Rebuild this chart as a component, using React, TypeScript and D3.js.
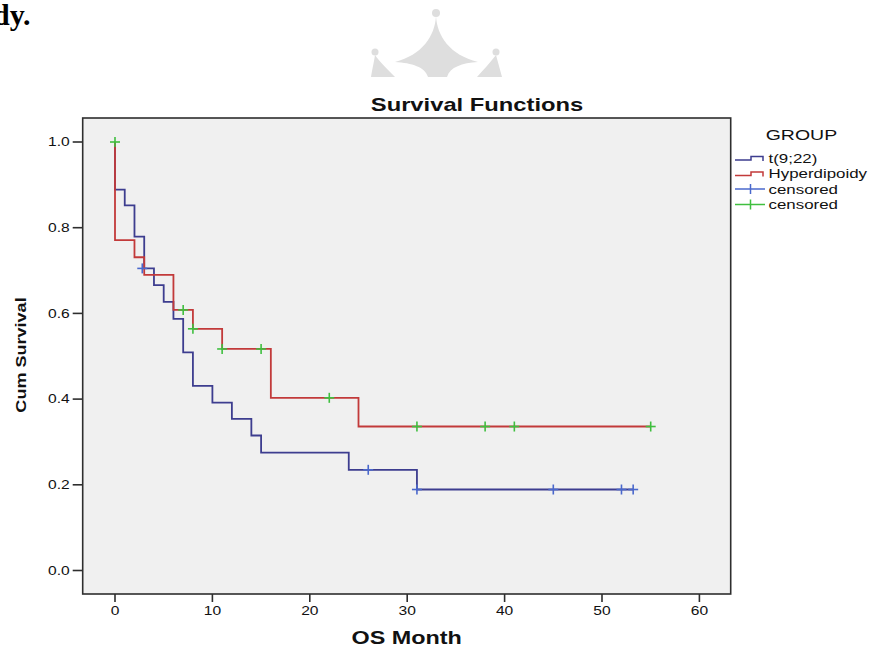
import React, { useRef, useEffect } from 'react';
import * as d3 from 'd3';

// t(9;22) group: event times and survival after each step
const blueTimes = [0, 1, 2, 3, 4, 5, 6, 7, 8, 10, 12, 14, 15, 24, 31];
const blueSurv = [0.889, 0.852, 0.779, 0.705, 0.666, 0.627, 0.587, 0.509, 0.431, 0.392, 0.354, 0.315, 0.275, 0.235, 0.189];
const blueEnd = 53.2;
const blueCensorTimes = [2.8, 26, 31, 45, 52, 53.2];
const blueCensorSurv = [0.705, 0.235, 0.189, 0.189, 0.189, 0.189];

// Hyperdipoidy group
const redTimes = [0, 2, 3, 6, 8, 11, 16, 25];
const redSurv = [0.771, 0.731, 0.69, 0.608, 0.564, 0.517, 0.403, 0.336];
const redEnd = 55;
const greenCensorTimes = [0, 7, 8, 11, 15, 22, 31, 38, 41, 55];
const greenCensorSurv = [1.0, 0.608, 0.564, 0.517, 0.517, 0.403, 0.336, 0.336, 0.336, 0.336];

const xTicks = [0, 10, 20, 30, 40, 50, 60];
const yTicks = [0, 0.2, 0.4, 0.6, 0.8, 1.0];
const legendLabels = ['t(9;22)', 'Hyperdipoidy', 'censored', 'censored'];

const BLUE = '#3d3d8f';
const RED = '#c23a3a';
const BLUE_C = '#4a68cc';
const GREEN_C = '#3fbf3f';
const FONT = "'Liberation Sans', Arial, sans-serif";
const SX = 1.3;

const App = () => {
    const svgRef = useRef(null);

    useEffect(() => {
        const svg = d3.select(svgRef.current);
        svg.selectAll('*').remove();

        const frame = { left: 82.7, top: 118, right: 730.7, bottom: 594 };
        const x = d3.scaleLinear().domain([0, 60]).range([115, 699.4]);
        const y = d3.scaleLinear().domain([0, 1]).range([570.5, 142]);

        const addText = (g, str, tx, ty, size, anchor, opts = {}) => {
            return g.append('text')
                .attr('transform', `translate(${tx},${ty}) ${opts.rotate ? `rotate(${opts.rotate})` : ''} scale(${opts.sx ?? SX},1)`)
                .attr('text-anchor', anchor)
                .attr('font-family', opts.family ?? FONT)
                .attr('font-weight', opts.bold ? 'bold' : 'normal')
                .attr('font-size', size)
                .attr('fill', opts.fill ?? '#111')
                .text(str);
        };

        // cropped heading text from the page
        addText(svg, 'dy.', -7, 25, 30, 'start', { bold: true, sx: 1, family: "'Liberation Serif', 'Times New Roman', serif", fill: '#000' });

        // watermark
        const wm = svg.append('g').attr('fill', '#dedede');
        wm.append('circle').attr('cx', 436).attr('cy', 13).attr('r', 4);
        wm.append('path').attr('d', 'M436,16 C437,36 450,55 478,62 C462,63 450,67 447,77 L428,77 C425,67 412,63 395,62 C422,55 435,36 436,16 Z');
        wm.append('circle').attr('cx', 375).attr('cy', 52).attr('r', 3.5);
        wm.append('path').attr('d', 'M375,55 C374,62 372,70 371,77 L395,77 C388,70 380,62 375,55 Z');
        wm.append('circle').attr('cx', 496).attr('cy', 52).attr('r', 3.5);
        wm.append('path').attr('d', 'M496,55 C490,63 483,70 477,77 L502,77 C500,70 498,62 496,55 Z');

        // title
        addText(svg, 'Survival Functions', 477, 111, 19, 'middle', { bold: true, sx: 1.25 });

        // plot frame
        svg.append('rect')
            .attr('x', frame.left).attr('y', frame.top)
            .attr('width', frame.right - frame.left).attr('height', frame.bottom - frame.top)
            .attr('fill', '#f0f0f0')
            .attr('stroke', '#2e2e2e')
            .attr('stroke-width', 1.6);

        // y axis
        const yg = svg.append('g');
        yTicks.forEach(t => {
            yg.append('line')
                .attr('x1', frame.left - 10).attr('x2', frame.left)
                .attr('y1', y(t)).attr('y2', y(t))
                .attr('stroke', '#2e2e2e').attr('stroke-width', 1.6);
            addText(yg, d3.format('.1f')(t), frame.left - 13, y(t) + 4.3, 12, 'end');
        });

        // x axis
        const xg = svg.append('g');
        xTicks.forEach(t => {
            xg.append('line')
                .attr('x1', x(t)).attr('x2', x(t))
                .attr('y1', frame.bottom).attr('y2', frame.bottom + 8)
                .attr('stroke', '#2e2e2e').attr('stroke-width', 1.6);
            addText(xg, String(t), x(t), 615, 12, 'middle');
        });

        addText(svg, 'OS Month', (frame.left + frame.right) / 2, 644, 18, 'middle', { bold: true });
        addText(svg, 'Cum Survival', 25.5, 355, 14, 'middle', { bold: true, rotate: -90, sx: 1.29 });

        // step curves
        const line = d3.line()
            .x(d => x(d[0]))
            .y(d => y(d[1]))
            .curve(d3.curveStepAfter);

        const stepData = (times, surv, end) => {
            const pts = [[0, 1]];
            times.forEach((t, i) => pts.push([t, surv[i]]));
            pts.push([end, surv[surv.length - 1]]);
            return pts;
        };

        svg.append('path')
            .datum(stepData(blueTimes, blueSurv, blueEnd))
            .attr('fill', 'none')
            .attr('stroke', BLUE)
            .attr('stroke-width', 1.8)
            .attr('d', line);

        svg.append('path')
            .datum(stepData(redTimes, redSurv, redEnd))
            .attr('fill', 'none')
            .attr('stroke', RED)
            .attr('stroke-width', 1.8)
            .attr('d', line);

        const drawCensors = (times, surv, color) => {
            const g = svg.append('g').attr('stroke', color).attr('stroke-width', 1.6);
            times.forEach((t, i) => {
                const cx = x(t), cy = y(surv[i]);
                g.append('line').attr('x1', cx - 5).attr('x2', cx + 5).attr('y1', cy).attr('y2', cy);
                g.append('line').attr('x1', cx).attr('x2', cx).attr('y1', cy - 5).attr('y2', cy + 5);
            });
        };
        drawCensors(blueCensorTimes, blueCensorSurv, BLUE_C);
        drawCensors(greenCensorTimes, greenCensorSurv, GREEN_C);

        // legend
        const lg = svg.append('g');
        addText(lg, 'GROUP', 765.7, 140, 15, 'start');
        const legendColors = [BLUE, RED, BLUE_C, GREEN_C];
        legendLabels.forEach((label, i) => {
            const cy = 158 + i * 15.5;
            if (i < 2) {
                lg.append('path')
                    .attr('d', `M735,${cy + 2} H751 V${cy - 1.5} H763 V${cy + 3}`)
                    .attr('fill', 'none')
                    .attr('stroke', legendColors[i])
                    .attr('stroke-width', 1.5);
            } else {
                lg.append('line').attr('x1', 735).attr('x2', 765).attr('y1', cy).attr('y2', cy)
                    .attr('stroke', legendColors[i]).attr('stroke-width', 1.5);
                lg.append('line').attr('x1', 750.5).attr('x2', 750.5).attr('y1', cy - 5).attr('y2', cy + 5)
                    .attr('stroke', legendColors[i]).attr('stroke-width', 1.5);
            }
            addText(lg, label, 768.5, cy + 4.5, 13, 'start');
        });
    }, []);

    return (
        <svg ref={svgRef} width={869} height={648}
            style={{ position: 'absolute', left: 0, top: 0, background: '#fff' }}></svg>
    );
};

export default App;
